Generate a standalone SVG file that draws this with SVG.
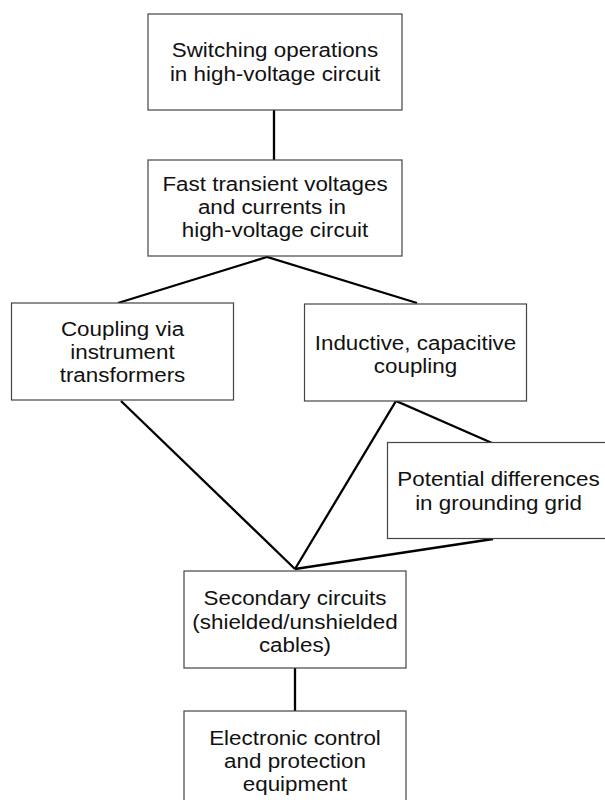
<svg xmlns="http://www.w3.org/2000/svg" width="605" height="800" viewBox="0 0 605 800">
<style>
.box{fill:#fff;stroke:#444;stroke-width:1.2}
.lbl{font-family:"Liberation Sans",Arial,Helvetica,sans-serif;font-size:19.3px;fill:#111;text-anchor:middle}
.con{stroke:#000;stroke-width:2.3;fill:none;stroke-linejoin:miter}
</style>
<rect width="605" height="800" fill="#fff"/>
<g id="connectors">
<line class="con" x1="274" y1="110" x2="274" y2="160"/>
<polyline class="con" points="118,303 267,257 417,303"/>
<line class="con" x1="121" y1="401" x2="295" y2="569"/>
<polyline class="con" points="295,569 396,401 492,443"/>
<line class="con" x1="493" y1="539" x2="295" y2="569"/>
<line class="con" x1="295" y1="668" x2="295" y2="711"/>
</g>
<g id="n1">
<rect class="box" x="148" y="14" width="254" height="96"/>
<g transform="translate(275 0) scale(1.16 1)"><text class="lbl"><tspan x="0" y="57">Switching operations</tspan><tspan x="0" y="81">in high-voltage circuit</tspan></text></g>
</g>
<g id="n2">
<rect class="box" x="148" y="160" width="254" height="96"/>
<g transform="translate(275 0) scale(1.16 1)"><text class="lbl"><tspan x="0" y="191">Fast transient voltages</tspan><tspan x="0" y="214">and currents in </tspan><tspan x="0" y="237">high-voltage circuit</tspan></text></g>
</g>
<g id="n3">
<rect class="box" x="11.5" y="303" width="222" height="97"/>
<g transform="translate(122.5 0) scale(1.16 1)"><text class="lbl"><tspan x="0" y="336">Coupling via</tspan><tspan x="0" y="359">instrument</tspan><tspan x="0" y="382">transformers</tspan></text></g>
</g>
<g id="n4">
<rect class="box" x="304.5" y="304" width="222" height="97"/>
<g transform="translate(415.5 0) scale(1.16 1)"><text class="lbl"><tspan x="0" y="350">Inductive, capacitive</tspan><tspan x="0" y="373">coupling</tspan></text></g>
</g>
<g id="n5">
<rect class="box" x="387.5" y="442.5" width="222" height="96"/>
<g transform="translate(498.5 0) scale(1.16 1)"><text class="lbl"><tspan x="0" y="486">Potential differences</tspan><tspan x="0" y="510">in grounding grid</tspan></text></g>
</g>
<g id="n6">
<rect class="box" x="184" y="571" width="222" height="97"/>
<g transform="translate(295 0) scale(1.16 1)"><text class="lbl"><tspan x="0" y="605">Secondary circuits</tspan><tspan x="0" y="629">(shielded/unshielded</tspan><tspan x="0" y="652">cables)</tspan></text></g>
</g>
<g id="n7">
<rect class="box" x="184" y="711" width="222" height="100"/>
<g transform="translate(295 0) scale(1.16 1)"><text class="lbl"><tspan x="0" y="745">Electronic control</tspan><tspan x="0" y="768">and protection</tspan><tspan x="0" y="791">equipment</tspan></text></g>
</g>
</svg>
